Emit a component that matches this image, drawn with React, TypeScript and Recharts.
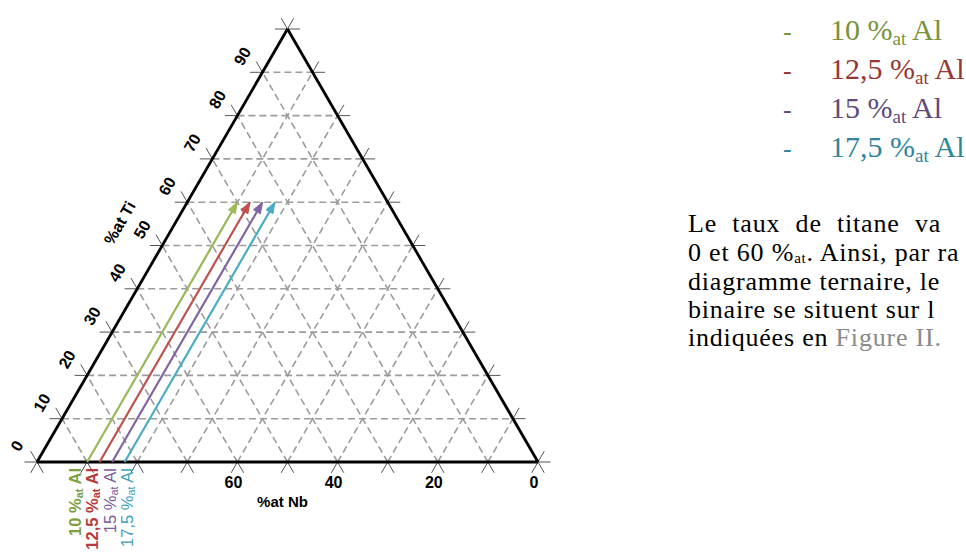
import React from 'react';
import { ScatterChart, Scatter, XAxis, YAxis, ReferenceLine } from 'recharts';

// ternary steps (% at)
const gridSteps = [10, 20, 30, 40, 50, 60, 70, 80, 90];
const edgeSteps = [0, 10, 20, 30, 40, 50, 60, 70, 80, 90, 100];
const tiTickLabels = [0, 10, 20, 30, 40, 50, 60, 70, 80, 90];
const nbTickLabels = [60, 40, 20, 0];

// series: constant Al, Ti going from 0 to 60
const alLevels = [10, 12.5, 15, 17.5];
const alNames = ['10', '12,5', '15', '17,5'];
const tiStart = 0;
const tiEnd = 60;

const arrowColors = ['#9bbb59', '#c0504d', '#8064a2', '#4bacc6'];
const labelColors = ['#7ea040', '#b83a3a', '#7a5c9c', '#3ea2bd'];
const textColors = ['#77933c', '#953735', '#604a7b', '#31859c'];

const W = 966;
const H = 552;
const TICK = 2.5;

// ternary (Al, Ti) -> cartesian in [0,1]
const pt = (al: number, ti: number) => ({ x: (al + ti / 2) / 100, y: ti / 100 });

type Seg = [{ x: number; y: number }, { x: number; y: number }];

const gridSegs: Seg[] = [];
gridSteps.forEach((k) => {
  gridSegs.push([pt(0, k), pt(100 - k, k)]); // Ti const
  gridSegs.push([pt(k, 0), pt(k, 100 - k)]); // Al const
  gridSegs.push([pt(100 - k, 0), pt(0, 100 - k)]); // Nb const
});

const tickSegs: Seg[] = [];
edgeSteps.forEach((k) => {
  // bottom edge
  tickSegs.push([pt(k, 0), pt(k, -TICK)]);
  tickSegs.push([pt(k, 0), pt(k + TICK, -TICK)]);
  // left edge
  tickSegs.push([pt(0, k), pt(-TICK, k)]);
  tickSegs.push([pt(0, k), pt(-TICK, k + TICK)]);
  // right edge
  tickSegs.push([pt(100 - k, k), pt(100 - k + TICK, k)]);
  tickSegs.push([pt(100 - k, k), pt(100 - k, k + TICK)]);
});

const edges: Seg[] = [
  [pt(0, 0), pt(100, 0)],
  [pt(100, 0), pt(0, 100)],
  [pt(0, 100), pt(0, 0)],
];

const tiLabelData = tiTickLabels.map((t) => ({ ...pt(0, t), label: String(t) }));
const nbLabelData = nbTickLabels.map((n) => ({ ...pt(100 - n, 0), label: String(n) }));
const tiTitleData = [{ ...pt(0, 55), label: '%at Ti' }];
const nbTitleData = [{ ...pt(50, 0), label: '%at Nb' }];
const alLabelData = alLevels.map((a, i) => ({ ...pt(a, 0), idx: i }));

const Arrow = (color: string) => (props: any) => {
  const { cx, cy, payload } = props;
  if (!payload || !payload.tip) return <g />;
  // direction along the constant-Al line (parallel to left edge)
  const ang = Math.atan2(-433, 250.5);
  const len = 11;
  const hw = 4;
  const ux = Math.cos(ang);
  const uy = Math.sin(ang);
  const bx = cx - ux * len;
  const by = cy - uy * len;
  const pts = `${cx},${cy} ${bx - uy * hw},${by + ux * hw} ${bx + uy * hw},${by - ux * hw}`;
  return <polygon points={pts} fill={color} stroke={color} />;
};

const axisFont = 'Arial, "Liberation Sans", sans-serif';
const serif = '"Liberation Serif", "Times New Roman", serif';

export default function App() {
  return (
    <div style={{ position: 'absolute', left: 0, top: 0, width: W, height: H, overflow: 'hidden', background: '#fff' }}>
      <ScatterChart width={W} height={H} margin={{ top: 29, left: 37, right: W - 538, bottom: H - 462 }}>
        <XAxis type="number" dataKey="x" domain={[0, 1]} hide />
        <YAxis type="number" dataKey="y" domain={[0, 1]} hide />
        {gridSegs.map((s, i) => (
          <ReferenceLine key={'g' + i} segment={s} ifOverflow="visible" stroke="#9c9c9c" strokeWidth={1.6} strokeDasharray="7 4" />
        ))}
        {tickSegs.map((s, i) => (
          <ReferenceLine key={'t' + i} segment={s} ifOverflow="visible" stroke="#555" strokeWidth={1} />
        ))}
        {edges.map((s, i) => (
          <ReferenceLine key={'e' + i} segment={s} ifOverflow="visible" stroke="#000" strokeWidth={2.8} />
        ))}
        {alLevels.map((a, i) => (
          <Scatter
            key={'a' + i}
            data={[{ ...pt(a, tiStart) }, { ...pt(a, tiEnd), tip: true }]}
            line={{ stroke: arrowColors[i], strokeWidth: 2.2 }}
            lineType="joint"
            shape={Arrow(arrowColors[i])}
            isAnimationActive={false}
          />
        ))}
        <Scatter
          data={tiLabelData}
          isAnimationActive={false}
          shape={(p: any) => (
            <text
              x={p.cx - 20}
              y={p.cy - 16}
              transform={`rotate(-60, ${p.cx - 20}, ${p.cy - 16})`}
              textAnchor="middle"
              dominantBaseline="central"
              fontFamily={axisFont}
              fontWeight="bold"
              fontSize={16}
              fill="#000"
            >
              {p.payload.label}
            </text>
          )}
        />
        <Scatter
          data={tiTitleData}
          isAnimationActive={false}
          shape={(p: any) => (
            <text
              x={p.cx - 55}
              y={p.cy - 1}
              transform={`rotate(-60, ${p.cx - 55}, ${p.cy - 1})`}
              textAnchor="middle"
              dominantBaseline="central"
              fontFamily={axisFont}
              fontWeight="bold"
              fontSize={16}
              fill="#000"
            >
              {p.payload.label}
            </text>
          )}
        />
        <Scatter
          data={nbLabelData}
          isAnimationActive={false}
          shape={(p: any) => (
            <text x={p.cx - 4} y={p.cy + 20} textAnchor="middle" dominantBaseline="central" fontFamily={axisFont} fontWeight="bold" fontSize={16} fill="#000">
              {p.payload.label}
            </text>
          )}
        />
        <Scatter
          data={nbTitleData}
          isAnimationActive={false}
          shape={(p: any) => (
            <text x={p.cx - 5} y={p.cy + 39} textAnchor="middle" dominantBaseline="central" fontFamily={axisFont} fontWeight="bold" fontSize={15} fill="#000">
              {p.payload.label}
            </text>
          )}
        />
        <Scatter
          data={alLabelData}
          isAnimationActive={false}
          shape={(p: any) => {
            const i = p.payload.idx;
            const x = p.cx - 12 + i * 4.8;
            const y = p.cy + 6;
            return (
              <text
                x={x}
                y={y}
                transform={`rotate(-90, ${x}, ${y})`}
                textAnchor="end"
                dominantBaseline="central"
                fontFamily={axisFont}
                fontWeight={i < 2 ? 'bold' : 'normal'}
                fontSize={16.5}
                fill={labelColors[i]}
              >
                {alNames[i]} %<tspan fontSize={11} dy={4}>at</tspan>
                <tspan dy={-4}> Al</tspan>
              </text>
            );
          }}
        />
      </ScatterChart>

      {/* legend list */}
      <div style={{ position: 'absolute', left: 0, top: 0, fontFamily: serif, fontSize: 30 }}>
        {alNames.map((n, i) => (
          <div key={n} style={{ position: 'absolute', left: 783, top: 40 + i * 39 - 26, whiteSpace: 'nowrap', color: textColors[i], lineHeight: '32px' }}>
            <span style={{ display: 'inline-block', width: 47, fontSize: 26 }}>-</span>
            {n} %<sub style={{ fontSize: 19, verticalAlign: '-5px', lineHeight: 0 }}>at</sub> Al
          </div>
        ))}
      </div>

      {/* paragraph */}
      <div style={{ position: 'absolute', left: 688, top: 0, fontFamily: serif, fontSize: 26, letterSpacing: '0.8px', color: '#000', lineHeight: '26px' }}>
        <div style={{ position: 'absolute', top: 211, whiteSpace: 'nowrap', wordSpacing: 8 }}>Le taux de titane va</div>
        <div style={{ position: 'absolute', top: 240, whiteSpace: 'nowrap' }}>
          0 et 60 %<sub style={{ fontSize: 15, verticalAlign: '-2px', lineHeight: 0 }}>at</sub>. Ainsi, par ra
        </div>
        <div style={{ position: 'absolute', top: 269, whiteSpace: 'nowrap' }}>diagramme ternaire, le</div>
        <div style={{ position: 'absolute', top: 297, whiteSpace: 'nowrap' }}>binaire se situent sur l</div>
        <div style={{ position: 'absolute', top: 325, whiteSpace: 'nowrap' }}>
          indiquées en <span style={{ color: '#8a8a8a' }}>Figure II.</span>
        </div>
      </div>
    </div>
  );
}
